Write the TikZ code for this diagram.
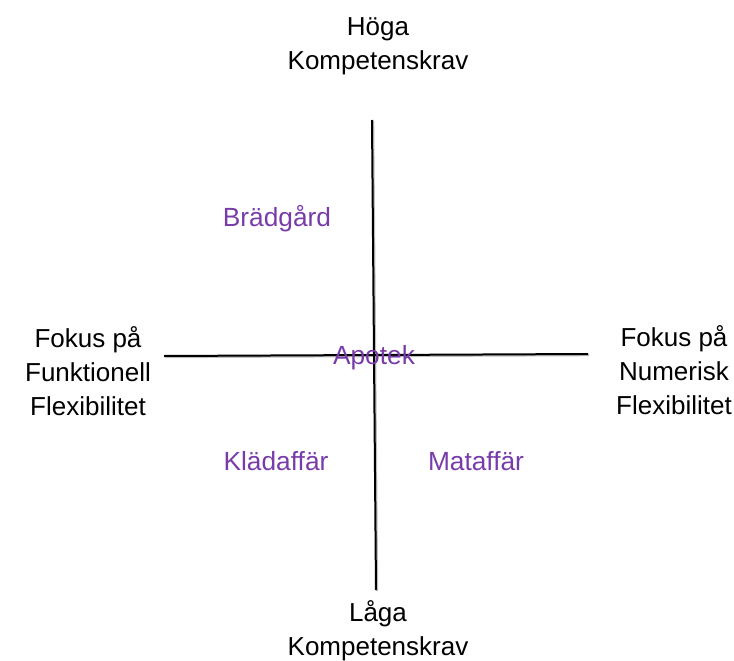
\documentclass[tikz,border=0pt]{standalone}
\usepackage{fontspec}
\setmainfont{Liberation Sans}
\usepackage{tikz}
\definecolor{quadpurple}{RGB}{120,60,170}

\begin{document}
\begin{tikzpicture}[x=1pt,y=-1pt]  % one unit per pixel of the reference, y down
    \tikzset{
        axislabel/.style={align=center, anchor=base, font=\fontsize{26}{34}\selectfont},
        shoplabel/.style={anchor=base, text=quadpurple, font=\fontsize{26.3}{34}\selectfont},
        axisline/.style={line width=2pt, black}
    }
    \useasboundingbox (0,0) rectangle (734,661);

    % End points of the two axes
    \coordinate (L) at (164,356);  % left end (funktionell)
    \coordinate (R) at (588,354);  % right end (numerisk)
    \coordinate (T) at (372,120);  % top end (hoga)
    \coordinate (B) at (376,590);  % bottom end (laga)

    % Soft shadow under the axes
    \draw[line width=2pt, black!25, transform canvas={shift={(1.2pt,-1.2pt)}}] (L) -- (R);
    \draw[line width=2pt, black!25, transform canvas={shift={(1.2pt,-1.2pt)}}] (T) -- (B);

    % The axes
    \draw[axisline] (L) -- (R);
    \draw[axisline] (T) -- (B);

    % Labels at the ends of the axes (base = last line)
    \node[axislabel] (hoga) at (378,70) {Höga\\Kompetenskrav};
    \node[axislabel] (laga) at (378,655) {Låga\\Kompetenskrav};
    \node[axislabel] (funk) at (88,415) {Fokus på\\Funktionell\\Flexibilitet};
    \node[axislabel] (num) at (674,414) {Fokus på\\Numerisk\\Flexibilitet};

    % Shops in the quadrants
    \node[shoplabel] (bradgard) at (277,226) {Brädgård};
    \node[shoplabel] (apotek) at (374,364) {Apotek};
    \node[shoplabel] (kladaffar) at (276,470) {Klädaffär};
    \node[shoplabel] (mataffar) at (476,470) {Mataffär};
\end{tikzpicture}
\end{document}
